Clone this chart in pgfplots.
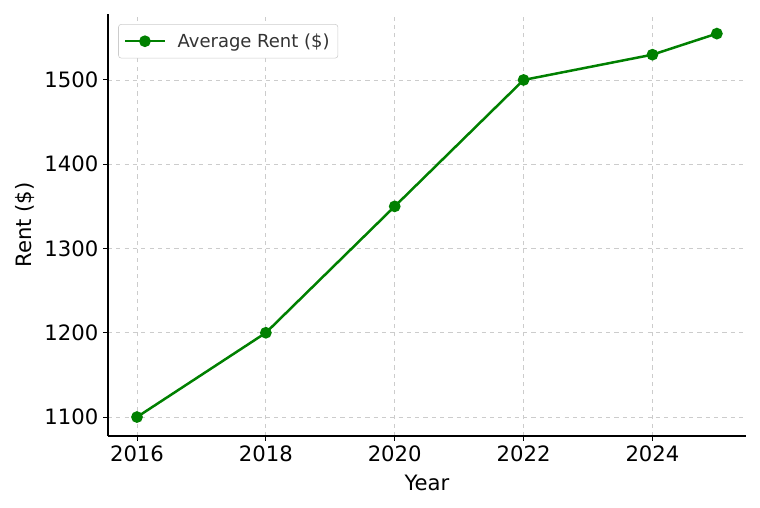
\documentclass[border=0pt]{standalone}
\usepackage{fontspec}
\setmainfont{DejaVu Sans}
\usepackage{pgfplots}
\pgfplotsset{compat=1.18}
\definecolor{mplgreen}{RGB}{0,128,0}
\definecolor{gridgray}{RGB}{204,204,204}
\definecolor{legtext}{RGB}{51,51,51}
\begin{document}
\begin{tikzpicture}[x=0.7227pt,y=0.7227pt]
\begin{axis}[
    scale only axis,
    width=461pt, height=305pt,
    xmin=2015.55, xmax=2025.45,
    ymin=1077.5, ymax=1578.3,
    axis x line*=bottom, axis y line*=left,
    axis line style={black, line width=0.9pt},
    xtick={2016,2018,...,2024}, ytick={1100,1200,...,1500},
    tick align=outside,
    major tick length=3.5pt,
    tick style={black, line width=0.7pt},
    grid=major,
    grid style={gridgray, dashed, line width=0.6pt},
    /pgf/number format/assume math mode=true,
    /pgf/number format/1000 sep={},
    ticklabel style={font=\fontsize{15.3}{17}\selectfont},
    label style={font=\fontsize{15.3}{17}\selectfont},
    xlabel={Year}, ylabel={Rent (\$)},
    xlabel style={yshift=-3pt},
    legend style={at={(0.016,0.976)}, anchor=north west,
      draw=gridgray, rounded corners=2pt, text=legtext,
      font=\fontsize{13}{15}\selectfont,
      inner xsep=4pt, inner ysep=4.5pt},
    legend cell align=left,
    legend image code/.code={
      \draw[#1, mark repeat=2, mark phase=2] plot coordinates {(0cm,0cm) (0.5cm,0cm) (1cm,0cm)};},
  ]
\addplot[mplgreen, line width=1.8pt, mark=*, mark size=3.3pt,
  mark options={fill=mplgreen}] coordinates {
  (2016,1100) (2018,1200) (2020,1350) (2022,1500) (2024,1530) (2025,1555)};
\legend{\hspace{6.5pt}Average Rent (\$)\hspace{6pt}}
\end{axis}
\path[use as bounding box] (-108,-72) rectangle (652,436);
\end{tikzpicture}
\end{document}
